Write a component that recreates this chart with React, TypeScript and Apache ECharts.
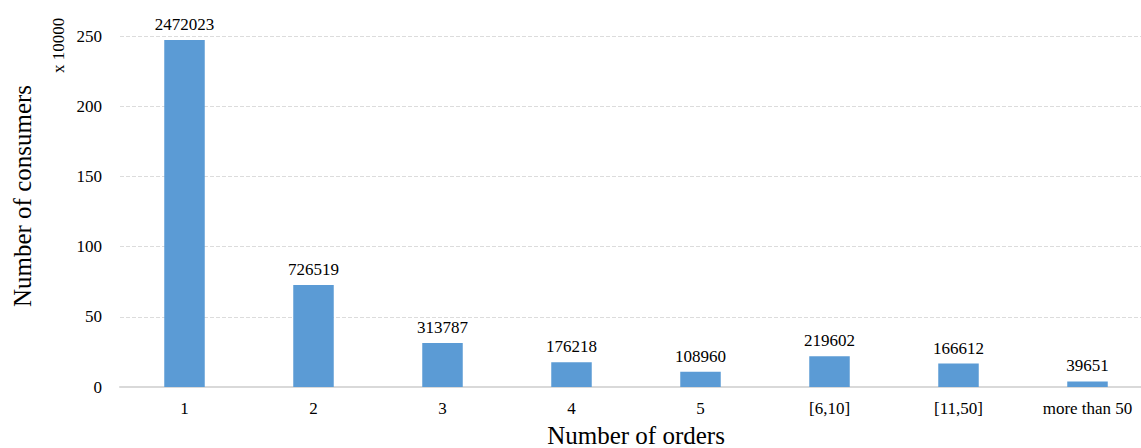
import React, { useEffect, useRef } from "react";
import * as echarts from "echarts";

// Order-count buckets and the number of consumers in each
const categories = ["1", "2", "3", "4", "5", "[6,10]", "[11,50]", "more than 50"];
const consumers = [2472023, 726519, 313787, 176218, 108960, 219602, 166612, 39651];
const yTicks = [0, 50, 100, 150, 200, 250];
const scale = 10000;

const FONT = "'Liberation Serif', 'Times New Roman', serif";

export default function App() {
  const ref = useRef<HTMLDivElement>(null);

  useEffect(() => {
    if (!ref.current) return;
    const chart = echarts.init(ref.current, undefined, { renderer: "svg" });
    chart.setOption({
      animation: false,
      textStyle: { fontFamily: FONT, color: "#000" },
      grid: {
        left: 120,
        right: -11,
        top: 36,
        bottom: 61,
        containLabel: false,
        outerBoundsMode: "none",
      },
      xAxis: {
        type: "category",
        data: categories,
        axisLine: { lineStyle: { color: "#d9d9d9", width: 2 } },
        axisTick: { show: false },
        axisLabel: { fontFamily: FONT, fontSize: 17, color: "#000", margin: 13 },
        name: "Number of orders",
        nameLocation: "middle",
        nameGap: 36,
        nameTextStyle: { fontFamily: FONT, fontSize: 25, color: "#000", lineHeight: 25 },
      },
      yAxis: {
        type: "value",
        min: yTicks[0],
        max: yTicks[yTicks.length - 1],
        interval: 50,
        axisLine: { show: false },
        axisTick: { show: false },
        axisLabel: { fontFamily: FONT, fontSize: 17, color: "#000", margin: 18 },
        splitLine: { lineStyle: { color: "#dcdcdc", type: [4, 2], width: 1 } },
      },
      graphic: [
        {
          // value-axis title
          type: "text",
          x: 22,
          y: 196,
          rotation: Math.PI / 2,
          style: {
            text: "Number of consumers",
            font: `25px ${FONT}`,
            fill: "#000",
            textAlign: "center",
            textVerticalAlign: "middle",
          },
        },
        {
          // unit note for the value axis
          type: "text",
          x: 50,
          y: 73,
          rotation: Math.PI / 2,
          style: {
            text: "x 10000",
            font: `17px ${FONT}`,
            fill: "#000",
            textAlign: "left",
            textVerticalAlign: "top",
          },
        },
      ],
      series: [
        {
          type: "bar",
          data: consumers.map((v) => v / scale),
          barWidth: 40.5,
          itemStyle: { color: "#5b9bd5" },
          label: {
            show: true,
            position: "top",
            distance: 7,
            fontFamily: FONT,
            fontSize: 17,
            color: "#000",
            formatter: (p: any) => String(consumers[p.dataIndex]),
          },
        },
      ],
    });
    return () => chart.dispose();
  }, []);

  return (
    <div
      ref={ref}
      style={{ position: "fixed", left: 0, top: 0, width: 1141, height: 448, background: "#fff" }}
    />
  );
}
